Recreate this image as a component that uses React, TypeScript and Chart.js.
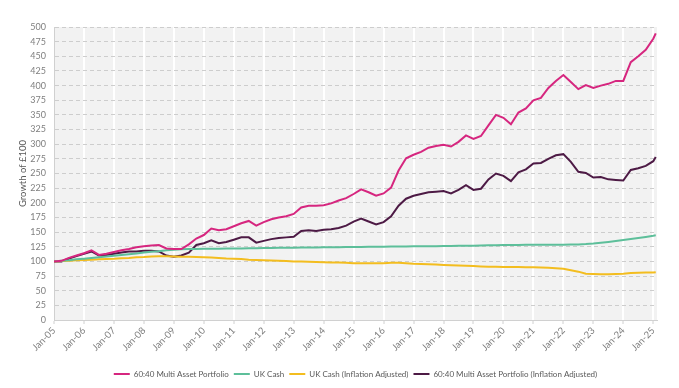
import React, { useEffect, useRef } from 'react';
import { Chart, registerables } from 'chart.js';

Chart.register(...registerables);

const xTickLabels = [
  'Jan-05', 'Jan-06', 'Jan-07', 'Jan-08', 'Jan-09', 'Jan-10', 'Jan-11', 'Jan-12', 'Jan-13', 'Jan-14',
  'Jan-15', 'Jan-16', 'Jan-17', 'Jan-18', 'Jan-19', 'Jan-20', 'Jan-21', 'Jan-22', 'Jan-23', 'Jan-24', 'Jan-25',
];

// months since Jan-05 (quarterly observations, last one Feb-25)
const obsMonths = Array.from({ length: 81 }, (_, i) => i * 3).concat([241]);

const portfolio = [
  100, 101, 106, 110, 114, 119, 111, 113, 116, 119, 121, 124, 126, 127, 128, 122,
  121, 121, 129, 139, 145, 156, 153, 155, 160, 165, 169, 161, 167, 172, 175, 177,
  181, 192, 195, 195, 196, 199, 204, 208, 215, 223, 218, 212, 216, 226, 255, 276,
  282, 287, 294, 297, 299, 296, 304, 315, 309, 314, 332, 350, 345, 334, 354, 361,
  375, 379, 396, 408, 418, 406, 394, 401, 396, 400, 403, 408, 408, 440, 450, 461,
  480, 489,
];

const ukCash = [
  100, 101, 102, 103.5, 104.7, 106, 107.2, 108.4, 109.5, 110.8, 112, 113.4, 115, 116.3, 117.5, 119,
  120, 120.6, 121, 121.3, 121.5, 121.7, 121.8, 121.9, 122, 122.2, 122.4, 122.6, 122.8, 123, 123.1, 123.3,
  123.5, 123.6, 123.7, 123.8, 124, 124.1, 124.3, 124.4, 124.6, 124.7, 124.9, 125, 125.2, 125.3, 125.4, 125.5,
  125.7, 125.8, 125.9, 126, 126.1, 126.3, 126.5, 126.7, 126.9, 127.2, 127.5, 127.7, 127.9, 128, 128.1, 128.2,
  128.3, 128.3, 128.4, 128.4, 128.5, 128.7, 129, 129.6, 130.5, 131.8, 133.2, 134.8, 136.5, 138.3, 140, 141.8,
  143.7, 144.5,
];

const ukCashReal = [
  100, 100.5, 101, 102, 102.5, 103, 103.5, 104, 104.5, 105.5, 106, 107, 107.5, 108.5, 109, 109,
  108.5, 108, 108, 107.5, 107, 106.5, 106, 105, 104.5, 104, 103, 102.5, 102, 101.5, 101, 100.5,
  100, 100, 99.5, 99, 98.5, 98, 98, 97.5, 97, 97, 97, 97, 97, 97.5, 97.5, 97,
  96, 95.5, 95, 94.5, 94, 93.5, 93, 92.5, 92, 91.5, 91, 91, 90.5, 90.5, 90.5, 90,
  90, 89.5, 89, 88.5, 87.5, 85, 82.5, 79, 78.5, 78, 78, 78.5, 79, 80, 80.5, 81,
  81, 81.5,
];

const portfolioReal = [
  100, 100, 105, 109, 113, 117, 110, 111, 113, 115, 117, 117, 118, 118, 117, 110,
  108, 110, 115, 128, 131, 136, 131, 133, 137, 141, 141, 132, 135, 138, 140, 141,
  142, 152, 153, 152, 154, 155, 157, 161, 168, 173, 168, 163, 167, 177, 195, 207,
  212, 215, 218, 219, 220, 216, 222, 230, 222, 224, 240, 250, 246, 237, 252, 257,
  267, 268, 275, 281, 283, 270, 253, 251, 243, 244, 240, 239, 238, 256, 259, 263,
  271, 278,
];

const seriesNames = [
  '60:40 Multi Asset Portfolio',
  'UK Cash',
  'UK Cash (Inflation Adjusted)',
  '60:40 Multi Asset Portfolio (Inflation Adjusted)',
];
const seriesValues = [portfolio, ukCash, ukCashReal, portfolioReal];
const seriesColors = ['#d6267f', '#5dbf9a', '#f3bd1f', '#4d1a45'];

const FONT = 'Lato';

const plotBg = {
  id: 'plotBg',
  beforeDraw(chart: any) {
    const { ctx, chartArea: a } = chart;
    ctx.save();
    ctx.fillStyle = '#f2f2f2';
    ctx.fillRect(a.left, a.top, a.right - a.left, a.bottom - a.top);
    ctx.restore();
  },
};

// centre the legend under the plot area rather than the whole canvas
const legendUnderPlot = {
  id: 'legendUnderPlot',
  afterLayout(chart: any) {
    const lg = chart.legend;
    const a = chart.chartArea;
    if (!lg || !a) return;
    const d = (a.left + a.right) / 2 - (lg.left + lg.right) / 2;
    lg.left += d;
    lg.right += d;
  },
};

export default function App() {
  const ref = useRef<HTMLCanvasElement>(null);

  useEffect(() => {
    if (!ref.current) return;
    const chart = new Chart(ref.current, {
      type: 'line',
      data: {
        datasets: seriesNames.map((name, s) => ({
          label: name,
          data: obsMonths.map((m, i) => ({ x: m, y: seriesValues[s][i] })),
          borderColor: seriesColors[s],
          backgroundColor: seriesColors[s],
          borderWidth: 2,
          pointRadius: 0,
          tension: 0,
        })),
      },
      options: {
        animation: false,
        responsive: false,
        maintainAspectRatio: false,
        layout: { padding: { top: 27, right: 22, bottom: 0, left: 0 } },
        plugins: {
          tooltip: { enabled: false },
          legend: {
            position: 'bottom',
            labels: {
              usePointStyle: true,
              pointStyle: 'line',
              pointStyleWidth: 16,
              boxHeight: 8,
              padding: 5,
              color: '#595959',
              font: { family: FONT, size: 8 },
            },
          },
        },
        scales: {
          x: {
            type: 'linear',
            min: 0,
            max: 241.5,
            afterBuildTicks: (s: any) => {
              s.ticks = xTickLabels.map((_, i) => ({ value: i * 12 }));
            },
            afterFit: (s: any) => {
              s.height = 45;
            },
            ticks: {
              autoSkip: false,
              minRotation: 45,
              maxRotation: 45,
              padding: 1,
              color: '#7f7f7f',
              font: { family: FONT, size: 9.5 },
              callback: (v: any) => xTickLabels[Math.round(Number(v) / 12)],
            },
            grid: {
              color: '#ffffff',
              lineWidth: 2,
              tickLength: 4,
              tickColor: '#d0d0d0',
              tickWidth: 1,
            },
            border: { color: '#d0d0d0', width: 1 },
          },
          y: {
            z: -1,
            min: 0,
            max: 500,
            afterFit: (s: any) => {
              s.width = 54;
            },
            ticks: {
              stepSize: 25,
              padding: 8,
              color: '#7f7f7f',
              font: { family: FONT, size: 9 },
            },
            grid: { color: '#cdcdcd', lineWidth: 1, drawTicks: false },
            border: { color: '#d0d0d0', width: 1, dash: [4, 3] },
            title: {
              display: true,
              text: 'Growth of £100',
              color: '#595959',
              font: { family: FONT, size: 9.5 },
              padding: { top: 17, bottom: 0 },
            },
          },
        },
      },
      plugins: [plotBg, legendUnderPlot],
    });
    return () => chart.destroy();
  }, []);

  return (
    <div style={{ position: 'absolute', left: 0, top: 0, width: 679, height: 388, background: '#fff' }}>
      <canvas ref={ref} width={679} height={388} style={{ display: 'block' }} />
    </div>
  );
}
